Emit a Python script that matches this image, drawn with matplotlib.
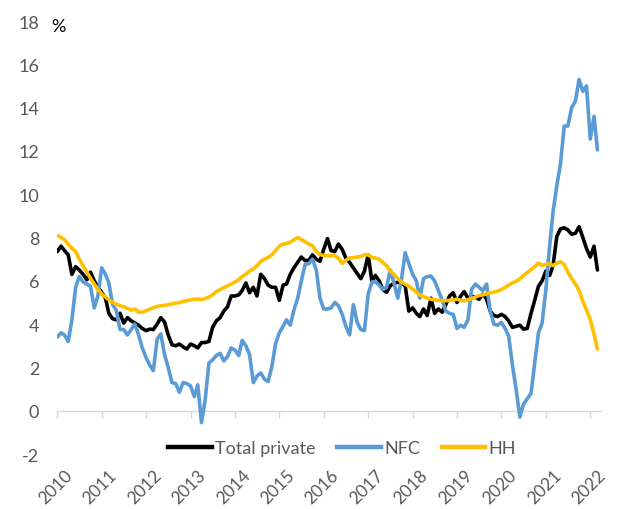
import pandas as pd
import matplotlib
matplotlib.use("Agg")
import matplotlib.pyplot as plt
import matplotlib.transforms as mtransforms
from matplotlib.lines import Line2D

# Monthly credit growth, y/y %, Jan 2010 - Mar 2022
months = pd.date_range("2010-01-01", periods=147, freq="MS")

total_private = [
    7.35, 7.6, 7.4, 7.2, 6.3, 6.65, 6.5, 6.3, 6.05, 6.4, 6.0, 5.7,        # 2010
    5.47, 5.2, 4.5, 4.25, 4.2, 4.5, 4.05, 4.3, 4.15, 4.05, 3.95, 3.8,    # 2011
    3.7, 3.77, 3.75, 4.0, 4.3, 4.1, 3.5, 3.05, 3.0, 3.08, 2.95, 2.85,    # 2012
    3.08, 3.0, 2.9, 3.15, 3.15, 3.2, 3.85, 4.15, 4.3, 4.6, 4.8, 5.3,     # 2013
    5.3, 5.35, 5.55, 5.9, 5.45, 5.7, 5.3, 6.3, 6.1, 5.8, 5.7, 5.7,       # 2014
    5.1, 5.8, 5.85, 6.3, 6.6, 6.85, 7.1, 6.93, 6.95, 7.2, 7.0, 6.9,      # 2015
    7.45, 7.95, 7.4, 7.35, 7.7, 7.45, 7.05, 6.85, 6.6, 6.35, 6.1, 6.45,  # 2016
    7.2, 5.95, 6.25, 6.0, 5.6, 5.47, 5.77, 5.9, 5.93, 5.9, 5.77, 4.6,    # 2017
    4.75, 4.5, 4.35, 4.7, 4.4, 5.2, 4.5, 4.7, 4.55, 4.9, 5.3, 5.45,      # 2018
    5.0, 5.3, 5.5, 5.2, 5.28, 5.25, 5.15, 5.38, 5.17, 4.6, 4.4, 4.35,    # 2019
    4.45, 4.35, 4.15, 3.85, 3.9, 3.95, 3.77, 3.8, 4.5, 5.1, 5.75, 6.0,   # 2020
    6.45, 6.25, 6.7, 8.05, 8.4, 8.45, 8.35, 8.15, 8.2, 8.5, 8.0, 7.5,    # 2021
    7.1, 7.6, 6.5,                                                       # 2022
]

nfc = [
    3.4, 3.6, 3.5, 3.2, 4.2, 5.7, 6.2, 5.95, 5.85, 5.75, 4.75, 5.3,      # 2010
    6.6, 6.3, 5.9, 4.9, 4.65, 3.75, 3.75, 3.5, 3.75, 4.0, 3.5, 2.9,      # 2011
    2.45, 2.1, 1.85, 3.3, 3.55, 2.6, 2.0, 1.3, 1.25, 0.85, 1.3, 1.25,    # 2012
    1.15, 0.65, 1.2, -0.55, 0.5, 2.2, 2.35, 2.55, 2.65, 2.3, 2.5, 2.9,   # 2013
    2.8, 2.55, 3.25, 3.0, 2.6, 1.3, 1.6, 1.75, 1.45, 1.35, 2.05, 3.1,    # 2014
    3.6, 3.9, 4.2, 3.95, 4.65, 5.2, 6.0, 6.75, 6.8, 7.0, 6.5, 5.2,       # 2015
    4.7, 4.7, 4.75, 5.0, 4.85, 4.45, 3.9, 3.5, 4.9, 4.1, 3.75, 3.7,      # 2016
    5.4, 5.95, 5.95, 5.8, 5.6, 5.7, 6.5, 5.9, 5.2, 6.05, 7.3, 6.8,       # 2017
    6.3, 6.0, 5.2, 6.1, 6.2, 6.22, 6.0, 5.55, 5.1, 4.6, 4.5, 4.45,       # 2018
    3.8, 3.95, 3.85, 4.2, 5.6, 5.85, 5.7, 5.55, 5.85, 4.6, 4.0, 3.95,    # 2019
    4.08, 3.8, 3.45, 2.1, 1.0, -0.3, 0.3, 0.55, 0.8, 2.2, 3.6, 4.05,     # 2020
    5.6, 7.6, 9.2, 10.4, 11.4, 13.15, 13.15, 14.0, 14.3, 15.3, 14.75, 15.0,  # 2021
    12.55, 13.6, 12.05,                                                  # 2022
]

hh = [
    8.1, 8.0, 7.9, 7.7, 7.5, 7.35, 7.0, 6.7, 6.4, 6.12, 5.85, 5.6,       # 2010
    5.4, 5.25, 5.12, 5.0, 4.93, 4.85, 4.8, 4.72, 4.65, 4.7, 4.55, 4.55,  # 2011
    4.62, 4.7, 4.75, 4.82, 4.85, 4.87, 4.9, 4.93, 4.97, 5.0, 5.05, 5.08, # 2012
    5.12, 5.15, 5.16, 5.13, 5.18, 5.25, 5.35, 5.5, 5.6, 5.68, 5.77, 5.85,  # 2013
    5.95, 6.05, 6.2, 6.3, 6.45, 6.55, 6.7, 6.9, 7.0, 7.08, 7.2, 7.4,     # 2014
    7.6, 7.7, 7.72, 7.78, 7.9, 8.0, 7.9, 7.8, 7.7, 7.62, 7.35, 7.22,     # 2015
    7.16, 7.16, 7.16, 7.16, 7.05, 6.8, 6.95, 7.05, 7.07, 7.1, 7.12, 7.2, # 2016
    7.2, 7.08, 7.05, 7.0, 6.85, 6.7, 6.45, 6.3, 6.1, 5.95, 5.85, 5.75,   # 2017
    5.62, 5.48, 5.35, 5.27, 5.2, 5.15, 5.12, 5.1, 5.08, 5.08, 5.1, 5.12, # 2018
    5.15, 5.1, 5.07, 5.13, 5.18, 5.25, 5.32, 5.35, 5.4, 5.45, 5.48, 5.52,  # 2019
    5.6, 5.7, 5.8, 5.9, 5.98, 6.08, 6.25, 6.38, 6.52, 6.65, 6.82, 6.72,  # 2020
    6.75, 6.8, 6.7, 6.82, 6.88, 6.75, 6.4, 6.1, 5.85, 5.55, 5.05, 4.65,  # 2021
    4.2, 3.55, 2.85,                                                     # 2022
]

series_names = ["Total private", "NFC", "HH"]
series_colors = ["#000000", "#5B9BD5", "#FFC000"]
years = list(range(2010, 2023))
y_ticks = list(range(-2, 19, 2))

plt.rcParams["font.family"] = ["Lato", "DejaVu Sans"]
label_grey = "#595959"
axis_grey = "#D9D9D9"
fs = 13

fig = plt.figure(figsize=(6.2, 5.1), dpi=100)
ax = fig.add_axes([0.0924, 0.1078, 0.8765, 0.849])

for vals, name, col, z in zip([total_private, nfc, hh], series_names,
                              series_colors, [3, 4, 5]):
    ax.plot(months, vals, color=col, lw=2.6, label=name, zorder=z,
            solid_joinstyle="round", solid_capstyle="round")

ax.set_ylim(-2, 18)
ax.set_yticks(y_ticks)
ax.set_yticklabels([str(v) for v in y_ticks])
ax.tick_params(axis="y", length=0, pad=13, labelsize=fs, labelcolor=label_grey)

year_dates = pd.to_datetime([f"{y}-01-01" for y in years])
ax.set_xlim(months[0], months[-1] + pd.Timedelta(days=27))
ax.set_xticks(year_dates)
ax.tick_params(axis="x", direction="out", length=5, width=1, color=axis_grey,
               labelbottom=False)

for side in ["left", "right", "top"]:
    ax.spines[side].set_visible(False)
ax.spines["bottom"].set_position(("data", 0))
ax.spines["bottom"].set_color(axis_grey)
ax.spines["bottom"].set_linewidth(1)

# Year labels sit below the plot area, rotated
base = mtransforms.blended_transform_factory(ax.transData, ax.transAxes)
shifted = base + mtransforms.ScaledTranslation(7 / 100, 0, fig.dpi_scale_trans)
for y, d in zip(years, year_dates):
    ax.text(d, -0.028, str(y), transform=shifted, rotation=45,
            rotation_mode="anchor", ha="right", va="top",
            fontsize=12.5, color=label_grey)

fig.text(58.6 / 620, 1 - 26.5 / 510, "%", ha="center", va="center",
         fontsize=fs, color="black")

leg_handles = [Line2D([0], [0], color=c, lw=3.2) for c in series_colors]
fig.legend(leg_handles, series_names, loc="center",
           bbox_to_anchor=(0.552, 0.1196), ncol=3, frameon=False,
           handlelength=2.4, handletextpad=0.2, columnspacing=1.2,
           fontsize=fs, labelcolor=label_grey)

fig.savefig("out.png", dpi=100)
